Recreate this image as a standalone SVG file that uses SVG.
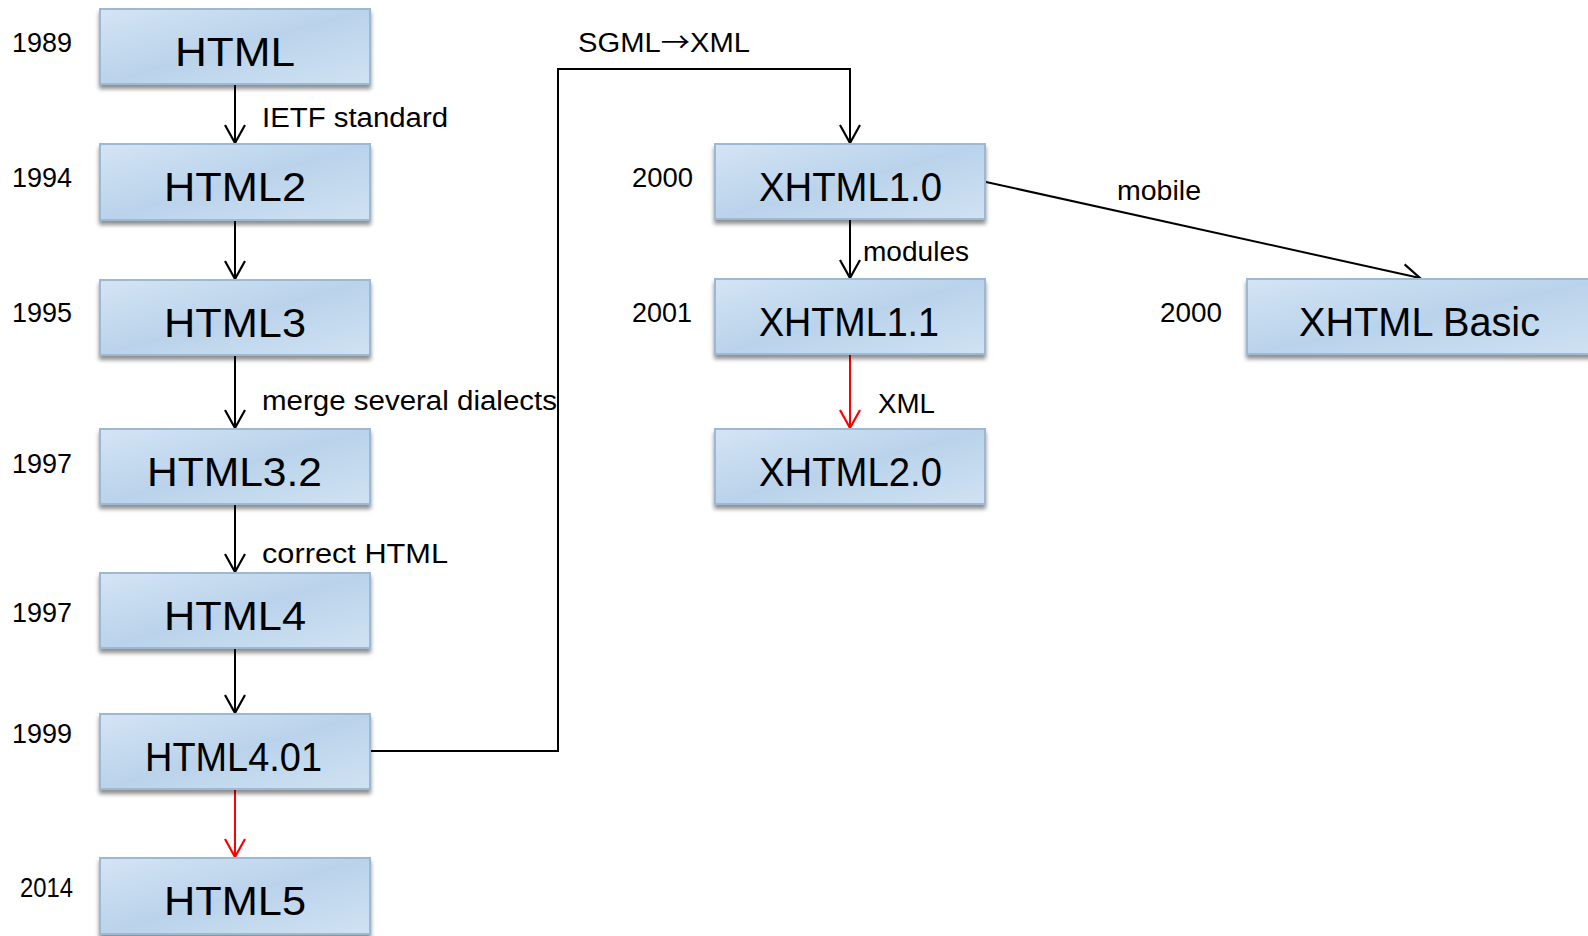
<svg xmlns="http://www.w3.org/2000/svg" width="1588" height="936" viewBox="0 0 1588 936">
<defs>
<linearGradient id="boxg" x1="0" y1="0" x2="1" y2="1">
<stop offset="0" stop-color="#d4e4f4"/>
<stop offset="0.5" stop-color="#bad3eb"/>
<stop offset="1" stop-color="#d0e2f2"/>
</linearGradient>
<filter id="sh" x="-10%" y="-20%" width="120%" height="150%">
<feGaussianBlur in="SourceAlpha" stdDeviation="2"/>
<feOffset dx="0" dy="4" result="b"/>
<feComponentTransfer><feFuncA type="linear" slope="0.45"/></feComponentTransfer>
<feMerge><feMergeNode/><feMergeNode in="SourceGraphic"/></feMerge>
</filter>
<marker id="ab" markerUnits="userSpaceOnUse" markerWidth="40" markerHeight="40" refX="0" refY="0" orient="auto" overflow="visible">
<path d="M-18,-10 L0,0 L-18,10" fill="none" stroke="#000" stroke-width="2.2"/>
</marker>
<marker id="ar" markerUnits="userSpaceOnUse" markerWidth="40" markerHeight="40" refX="0" refY="0" orient="auto" overflow="visible">
<path d="M-18,-10 L0,0 L-18,10" fill="none" stroke="#ff0000" stroke-width="2.2"/>
</marker>
</defs>
<style>
.box{fill:url(#boxg);stroke:#9db8d2;stroke-width:2;filter:url(#sh)}
.nl{font-family:"Liberation Sans",Arial,sans-serif;font-size:41px;fill:#000}
.yr{font-family:"Liberation Sans",Arial,sans-serif;font-size:28px;fill:#000}
.lb{font-family:"Liberation Sans",Arial,sans-serif;font-size:27px;fill:#000}
.jp{font-family:"Noto Sans CJK JP",sans-serif}
.c{fill:none;stroke:#000;stroke-width:2}
.cr{fill:none;stroke:#ff0000;stroke-width:2}
</style>
<rect width="1588" height="936" fill="#fff"/>
<g id="connectors">
<path class="c" d="M235 84 V143" marker-end="url(#ab)"/>
<path class="c" d="M235 220 V279" marker-end="url(#ab)"/>
<path class="c" d="M235 355 V428" marker-end="url(#ab)"/>
<path class="c" d="M235 504 V572" marker-end="url(#ab)"/>
<path class="c" d="M235 648 V713" marker-end="url(#ab)"/>
<path class="cr" d="M235 789 V857" marker-end="url(#ar)"/>
<path class="c" d="M370 751 H558 V69 H850 V143" marker-end="url(#ab)"/>
<path class="c" d="M850 219 V278" marker-end="url(#ab)"/>
<path class="cr" d="M850 354 V428" marker-end="url(#ar)"/>
<path class="c" d="M986 182 L1420 278" marker-end="url(#ab)"/>
<text class="lb" x="262" y="127" textLength="186" lengthAdjust="spacingAndGlyphs">IETF standard</text>
<text class="lb" x="262" y="410" textLength="295" lengthAdjust="spacingAndGlyphs">merge several dialects</text>
<text class="lb" x="262" y="563" textLength="186" lengthAdjust="spacingAndGlyphs">correct HTML</text>
<text class="lb" x="578" y="52" textLength="172" lengthAdjust="spacingAndGlyphs">SGML<tspan class="jp">→</tspan>XML</text>
<text class="lb" x="1117" y="200" textLength="84" lengthAdjust="spacingAndGlyphs">mobile</text>
<text class="lb" x="863" y="261" textLength="106" lengthAdjust="spacingAndGlyphs">modules</text>
<text class="lb" x="878" y="413" textLength="57" lengthAdjust="spacingAndGlyphs">XML</text>
</g>
<g id="html">
<rect class="box" x="100" y="9" width="270" height="75"/>
<text class="nl" x="175" y="66" textLength="120" lengthAdjust="spacingAndGlyphs">HTML</text>
<text class="yr" x="12" y="52" textLength="60" lengthAdjust="spacingAndGlyphs">1989</text>
</g>
<g id="html2">
<rect class="box" x="100" y="144" width="270" height="76"/>
<text class="nl" x="164" y="201" textLength="142" lengthAdjust="spacingAndGlyphs">HTML2</text>
<text class="yr" x="12" y="187" textLength="60" lengthAdjust="spacingAndGlyphs">1994</text>
</g>
<g id="html3">
<rect class="box" x="100" y="280" width="270" height="75"/>
<text class="nl" x="164" y="337" textLength="142" lengthAdjust="spacingAndGlyphs">HTML3</text>
<text class="yr" x="12" y="322" textLength="60" lengthAdjust="spacingAndGlyphs">1995</text>
</g>
<g id="html32">
<rect class="box" x="100" y="429" width="270" height="75"/>
<text class="nl" x="147" y="486" textLength="175" lengthAdjust="spacingAndGlyphs">HTML3.2</text>
<text class="yr" x="12" y="473" textLength="60" lengthAdjust="spacingAndGlyphs">1997</text>
</g>
<g id="html4">
<rect class="box" x="100" y="573" width="270" height="75"/>
<text class="nl" x="164" y="630" textLength="142" lengthAdjust="spacingAndGlyphs">HTML4</text>
<text class="yr" x="12" y="622" textLength="60" lengthAdjust="spacingAndGlyphs">1997</text>
</g>
<g id="html401">
<rect class="box" x="100" y="714" width="270" height="75"/>
<text class="nl" x="145" y="771" textLength="177" lengthAdjust="spacingAndGlyphs">HTML4.01</text>
<text class="yr" x="12" y="743" textLength="60" lengthAdjust="spacingAndGlyphs">1999</text>
</g>
<g id="html5">
<rect class="box" x="100" y="858" width="270" height="76"/>
<text class="nl" x="164" y="915" textLength="142" lengthAdjust="spacingAndGlyphs">HTML5</text>
<text class="yr" x="20" y="897" textLength="53" lengthAdjust="spacingAndGlyphs">2014</text>
</g>
<g id="xhtml10">
<rect class="box" x="715" y="144" width="270" height="75"/>
<text class="nl" x="759" y="201" textLength="183" lengthAdjust="spacingAndGlyphs">XHTML1.0</text>
<text class="yr" x="632" y="187" textLength="61" lengthAdjust="spacingAndGlyphs">2000</text>
</g>
<g id="xhtml11">
<rect class="box" x="715" y="279" width="270" height="75"/>
<text class="nl" x="759" y="336" textLength="180" lengthAdjust="spacingAndGlyphs">XHTML1.1</text>
<text class="yr" x="632" y="322" textLength="60" lengthAdjust="spacingAndGlyphs">2001</text>
</g>
<g id="xhtml20">
<rect class="box" x="715" y="429" width="270" height="75"/>
<text class="nl" x="759" y="486" textLength="183" lengthAdjust="spacingAndGlyphs">XHTML2.0</text>
</g>
<g id="xhtmlbasic">
<rect class="box" x="1247" y="279" width="360" height="75"/>
<text class="nl" x="1299" y="336" textLength="241" lengthAdjust="spacingAndGlyphs">XHTML Basic</text>
<text class="yr" x="1160" y="322" textLength="62" lengthAdjust="spacingAndGlyphs">2000</text>
</g>
</svg>
